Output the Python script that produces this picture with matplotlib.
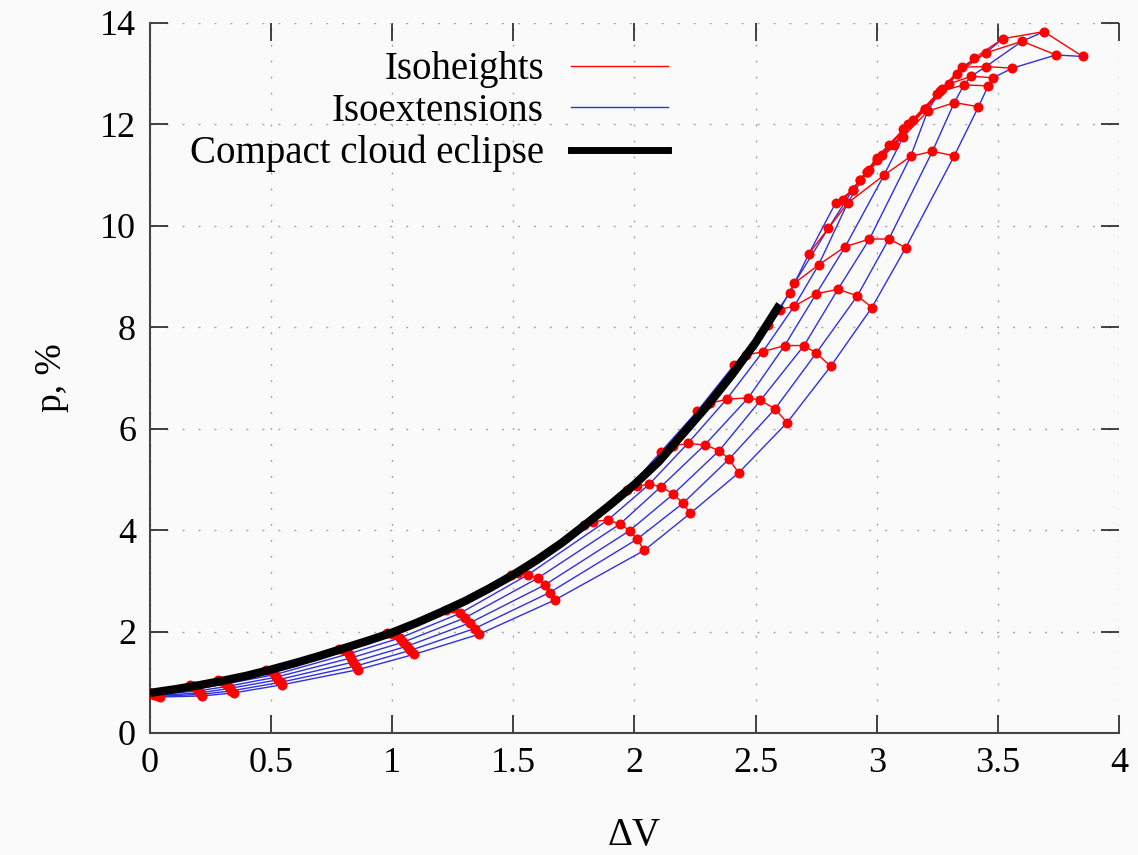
import matplotlib
matplotlib.use("Agg")
import matplotlib.pyplot as plt
from matplotlib.lines import Line2D
import numpy as np

plt.rcParams["font.family"] = ["Liberation Serif", "DejaVu Serif"]
plt.rcParams["font.size"] = 26

# compact cloud eclipse curve
compact_dv = [0.0, 0.1, 0.2, 0.3, 0.4, 0.5, 0.6, 0.7, 0.8, 0.9, 1.0, 1.1, 1.2, 1.3,
              1.4, 1.5, 1.6, 1.7, 1.8, 1.9, 2.0, 2.1, 2.2, 2.3, 2.4, 2.5, 2.6]
compact_p = [0.79, 0.86, 0.94, 1.03, 1.13, 1.25, 1.38, 1.52, 1.67, 1.82, 1.98, 2.17,
             2.38, 2.6, 2.85, 3.12, 3.42, 3.75, 4.12, 4.5, 4.9, 5.35, 5.9, 6.45,
             7.05, 7.7, 8.45]

# grid nodes: one row per isoheight, one column per isoextension (ext0 .. ext6)
node_dv = [
    [0.00, 0.006, 0.012, 0.018, 0.025, 0.032, 0.04],
    [0.165, 0.18, 0.195, 0.20, 0.205, 0.21, 0.215],
    [0.28, 0.295, 0.315, 0.32, 0.33, 0.335, 0.345],
    [0.48, 0.50, 0.515, 0.52, 0.53, 0.54, 0.545],
    [0.78, 0.80, 0.82, 0.83, 0.84, 0.85, 0.86],
    [0.98, 1.00, 1.03, 1.045, 1.06, 1.075, 1.09],
    [1.22, 1.25, 1.28, 1.30, 1.32, 1.34, 1.36],
    [1.49, 1.52, 1.56, 1.60, 1.63, 1.65, 1.67],
    [1.79, 1.83, 1.89, 1.94, 1.98, 2.01, 2.04],
    [1.97, 2.01, 2.06, 2.11, 2.16, 2.20, 2.23],
    [2.11, 2.16, 2.22, 2.29, 2.35, 2.39, 2.43],
    [2.26, 2.31, 2.38, 2.47, 2.52, 2.58, 2.63],
    [2.41, 2.46, 2.53, 2.62, 2.70, 2.75, 2.81],
    [2.55, 2.60, 2.66, 2.75, 2.84, 2.92, 2.98],
    [2.64, 2.66, 2.76, 2.87, 2.97, 3.05, 3.12],
    [2.72, 2.80, 2.88, 3.03, 3.14, 3.23, 3.32],
    [2.83, 2.90, 2.96, 3.11, 3.21, 3.32, 3.42],
    [2.86, 2.93, 3.00, 3.15, 3.26, 3.36, 3.46],
    [2.90, 2.96, 3.05, 3.20, 3.30, 3.39, 3.48],
    [2.93, 3.00, 3.11, 3.25, 3.35, 3.45, 3.56],
    [2.97, 3.07, 3.20, 3.33, 3.45, 3.60, 3.74],
    [3.02, 3.13, 3.27, 3.40, 3.52, 3.69, 3.85],
]
node_p = [
    [0.79, 0.78, 0.77, 0.755, 0.74, 0.725, 0.71],
    [0.95, 0.93, 0.87, 0.83, 0.79, 0.76, 0.73],
    [1.05, 1.03, 0.97, 0.92, 0.88, 0.83, 0.79],
    [1.24, 1.22, 1.15, 1.10, 1.05, 1.00, 0.95],
    [1.66, 1.64, 1.56, 1.48, 1.40, 1.32, 1.25],
    [1.97, 1.96, 1.87, 1.79, 1.71, 1.63, 1.55],
    [2.43, 2.46, 2.36, 2.27, 2.17, 2.06, 1.95],
    [3.12, 3.15, 3.12, 3.05, 2.92, 2.77, 2.62],
    [4.10, 4.17, 4.20, 4.12, 3.99, 3.82, 3.60],
    [4.80, 4.87, 4.90, 4.86, 4.71, 4.53, 4.33],
    [5.55, 5.66, 5.71, 5.68, 5.57, 5.40, 5.13],
    [6.35, 6.50, 6.58, 6.61, 6.56, 6.39, 6.12],
    [7.25, 7.45, 7.52, 7.64, 7.64, 7.49, 7.23],
    [8.05, 8.35, 8.42, 8.66, 8.75, 8.62, 8.39],
    [8.67, 8.87, 9.23, 9.59, 9.74, 9.74, 9.57],
    [9.45, 9.95, 10.45, 11.0, 11.37, 11.47, 11.38],
    [10.45, 10.70, 11.07, 11.76, 12.26, 12.43, 12.35],
    [10.51, 10.90, 11.34, 12.09, 12.65, 12.78, 12.76],
    [10.70, 11.07, 11.60, 12.30, 12.80, 12.95, 12.92],
    [10.90, 11.30, 11.90, 12.60, 13.13, 13.14, 13.11],
    [11.10, 11.60, 12.30, 13.00, 13.41, 13.64, 13.37],
    [11.40, 12.00, 12.70, 13.30, 13.69, 13.83, 13.34],
]

xticks = [0, 0.5, 1, 1.5, 2, 2.5, 3, 3.5, 4]
xtick_labels = ["0", "0.5", "1", "1.5", "2", "2.5", "3", "3.5", "4"]
yticks = [0, 2, 4, 6, 8, 10, 12, 14]

red = "#ff0000"
blue = "#3030e0"

fig = plt.figure(figsize=(11.38, 8.55), dpi=100, facecolor="#fafafa")
ax = fig.add_axes([0.1318, 0.1427, 0.8515, 0.8304])
ax.set_facecolor("#fafafa")

dv = np.array(node_dv)
p = np.array(node_p)

# isoextensions
for j in range(dv.shape[1]):
    ax.plot(dv[:, j], p[:, j], color=blue, lw=1.0, zorder=2)

# isoheights
for i in range(dv.shape[0]):
    ax.plot(dv[i], p[i], color=red, lw=1.0, marker="o", ms=7.2,
            markeredgewidth=0, zorder=3)

ax.plot(compact_dv, compact_p, color="black", lw=6, solid_capstyle="butt",
        solid_joinstyle="round", zorder=4)

ax.set_xlim(0, 4)
ax.set_ylim(0, 14)
ax.set_xticks(xticks)
ax.set_xticklabels(xtick_labels)
ax.set_yticks(yticks)
ax.tick_params(direction="in", length=13, width=1.2, pad=10,
               top=True, right=True, labelsize=26, color="#222222")
ax.grid(True, color="#a8a8a8", lw=1.0, linestyle=(0, (1.5, 10)))
for side in ["top", "right"]:
    ax.spines[side].set_visible(False)
for side in ["left", "bottom"]:
    ax.spines[side].set_color("#444444")
    ax.spines[side].set_linewidth(1.5)

ax.set_xlabel("ΔV", fontsize=28, labelpad=27)
ax.set_ylabel("p, %", fontsize=27, labelpad=22)

handles = [
    Line2D([], [], color=red, lw=1.0),
    Line2D([], [], color=blue, lw=1.0),
    Line2D([], [], color="black", lw=5),
]
ax.legend(handles, ["Isoheights", "Isoextensions", "Compact cloud eclipse"],
          loc="upper right", bbox_to_anchor=(0.535, 0.96), frameon=False,
          markerfirst=False, fontsize=28, handlelength=2.5, handletextpad=0.7,
          labelspacing=0.12, borderaxespad=0, borderpad=0)

fig.savefig("out.png", dpi=100, facecolor=fig.get_facecolor())
